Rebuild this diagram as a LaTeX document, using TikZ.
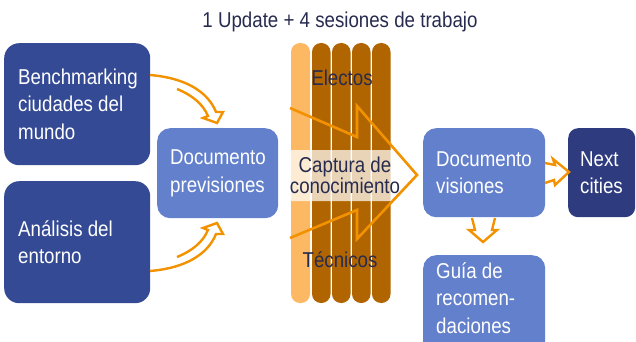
\documentclass[tikz,border=0pt]{standalone}
\usepackage{fontspec}
\setmainfont{Liberation Sans}[FakeStretch=0.87]
\usepackage{tikz}
\usetikzlibrary{positioning}
\definecolor{boxdark}{HTML}{344A94}
\definecolor{boxmid}{HTML}{6380CC}
\definecolor{boxnext}{HTML}{2E3B7E}
\definecolor{stripl}{HTML}{FDB863}
\definecolor{stripd}{HTML}{B06500}
\definecolor{flowor}{HTML}{F39200}
\definecolor{navy}{HTML}{262B4F}

\begin{document}
\begin{tikzpicture}[x=1pt,y=-1pt,
    every node/.style={font=\fontsize{21.5}{27.5}\selectfont},
    box/.style={rounded corners=13pt,inner sep=0pt,anchor=north west},
    boxtext/.style={text=white,align=left,inner sep=0pt},
    flow/.style={draw=flowor,line width=2.6pt,line join=miter}]
                \useasboundingbox (0,0) rectangle (636,342);
                \clip (0,0) rectangle (636,342);
                \node[text=navy,anchor=base] (title) at (340,28) {1 Update + 4 sesiones de trabajo};
                \node[box,fill=boxdark,minimum width=146pt,minimum height=122pt,rounded corners=15pt] (bench) at (4,43) {};
                \node[box,fill=boxdark,minimum width=146pt,minimum height=122pt,rounded corners=15pt] (analisis) at (4,181) {};
                \node[box,fill=boxmid,minimum width=121pt,minimum height=90pt] (docprev) at (157,128) {};
                \node[box,fill=boxmid,minimum width=122pt,minimum height=89pt] (docvis) at (423,128) {};
                \node[box,fill=boxnext,minimum width=67pt,minimum height=89pt,rounded corners=10pt] (next) at (568,128) {};
                \node[box,fill=boxmid,minimum width=122pt,minimum height=110pt] (guia) at (423,255) {};
                \node[boxtext,right=14pt of bench.west] (benchtxt) {Benchmarking\\ciudades del\\mundo};
                \node[boxtext,right=14pt of analisis.west] (analisistxt) {Análisis del\\entorno};
                \node[boxtext,right=13pt of docprev.west] (docprevtxt) {Documento\\previsiones};
                \node[boxtext,right=13pt of docvis.west] (docvistxt) {Documento\\visiones};
                \node[boxtext,right=12pt of next.west] (nexttxt) {Next\\cities};
                \node[boxtext,below right=7pt and 13pt of guia.north west] (guiatxt) {Guía de\\recomen-\\daciones};
                \fill[stripl,rounded corners=9pt] (291,43) rectangle +(19,260);
                \foreach \x in {312,332,352,372}
                    \fill[stripd,rounded corners=9pt] (\x,43) rectangle +(18.5,260);
                \node[text=navy,anchor=base] (electos) at (342,86) {Electos};
                \node[text=navy,anchor=base] (tecnicos) at (340,267) {Técnicos};
                \node[fill=white,fill opacity=0.72,text opacity=1,text=navy,rounded corners=3pt,
                      minimum width=113pt,minimum height=51pt,inner sep=0pt,align=center,
                      font=\fontsize{21.5}{21}\selectfont] (captura) at (345,175.5) {Captura de\\conocimiento};
                \draw[flow] (290,108) -- (357,137) -- (357,106) -- (417,175) -- (357,239) -- (357,210) -- (290,238);
                \draw[flow,line width=2.4pt] (150,75) .. controls (186,78) and (208,92) .. (216,112) -- (223,112) -- (217,123) -- (203,118) -- (208,116) .. controls (203,104) and (192,95) .. (177,89);
                \draw[flow,line width=2.4pt] (150,271) .. controls (186,268) and (208,254) .. (216,234) -- (223,234) -- (217,223) -- (203,228) -- (208,230) .. controls (203,242) and (192,251) .. (177,257);
                \draw[flow,line width=2.4pt] (545,163) -- (555,165) -- (553,159) -- (569,172) -- (555,185) -- (554,180) -- (545,183);
                \draw[flow,line width=2.4pt] (472,218) -- (475,230) -- (469,230) -- (483,242) -- (497,230) -- (492,230) -- (495,218);
            \end{tikzpicture}
\end{document}
